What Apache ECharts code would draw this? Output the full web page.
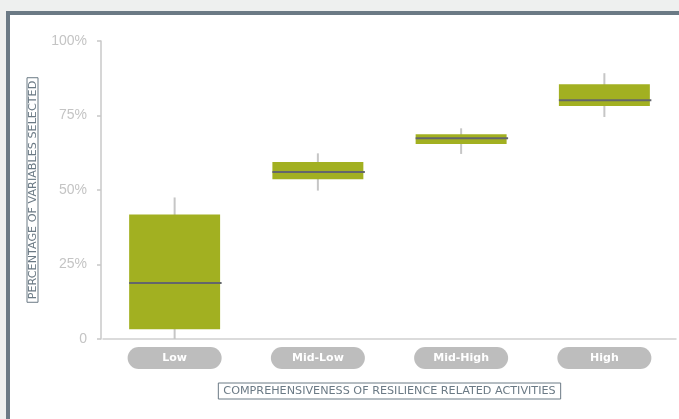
<!DOCTYPE html>
<html>
<head>
<meta charset="utf-8">
<style>
  html, body { margin: 0; padding: 0; background: #eef0ef; }
  #chart { width: 679px; height: 419px; }
</style>
<script src="https://cdn.jsdelivr.net/npm/echarts@6/dist/echarts.min.js"></script>
</head>
<body>
<div id="chart"></div>
<script>
// Activity levels along the horizontal axis
const categories = ['Low', 'Mid-Low', 'Mid-High', 'High'];
// Five-number summaries (percent): min, lower quartile, median, upper quartile, max
const lowStats     = [0, 3.3, 18.8, 41.8, 47.5];
const midLowStats  = [49.8, 53.6, 56.0, 59.4, 62.3];
const midHighStats = [62.1, 65.4, 67.4, 68.7, 70.7];
const highStats    = [74.5, 78.2, 80.1, 85.5, 89.2];
// Value axis ticks
const yTicks = [0, 25, 50, 75, 100];

const stats = [lowStats, midLowStats, midHighStats, highStats];
const seriesData = stats.map((s, i) => [i].concat(s));

const FRAME = '#6b7a85';
const BOX = '#a2b021';
const WHISKER = '#c6c6c6';
const MEDIAN = '#63666b';
const WIDE_FONT = '"DejaVu Sans", Verdana, sans-serif';

function renderBox(params, api) {
  const idx = api.value(0);
  const pMin = api.coord([idx, api.value(1)]);
  const pQ1 = api.coord([idx, api.value(2)]);
  const pMed = api.coord([idx, api.value(3)]);
  const pQ3 = api.coord([idx, api.value(4)]);
  const pMax = api.coord([idx, api.value(5)]);
  const w = api.size([1, 0])[0] * 0.635;
  const x0 = pMed[0] - w / 2;
  return {
    type: 'group',
    children: [
      {
        type: 'line',
        shape: { x1: pMin[0], y1: pMin[1], x2: pMax[0], y2: pMax[1] },
        style: { stroke: WHISKER, lineWidth: 2 }
      },
      {
        type: 'rect',
        shape: { x: x0, y: pQ3[1], width: w, height: pQ1[1] - pQ3[1] },
        style: { fill: BOX }
      },
      {
        type: 'line',
        shape: { x1: x0, y1: pMed[1], x2: x0 + w + 1.5, y2: pMed[1] },
        style: { stroke: MEDIAN, lineWidth: 2 }
      }
    ]
  };
}

const chart = echarts.init(document.getElementById('chart'), null, { renderer: 'canvas' });
chart.setOption({
  backgroundColor: '#eef0ef',
  animation: false,
  graphic: [{
    type: 'rect',
    z: -10,
    silent: true,
    shape: { x: 8, y: 13, width: 720, height: 460 },
    style: { fill: '#ffffff', stroke: FRAME, lineWidth: 4 }
  }],
  grid: { left: 103, right: 3, top: 41, bottom: 80 },
  xAxis: {
    type: 'category',
    data: categories,
    name: 'COMPREHENSIVENESS OF RESILIENCE RELATED ACTIVITIES',
    nameLocation: 'middle',
    nameGap: 44,
    nameTextStyle: {
      color: FRAME,
      fontFamily: WIDE_FONT,
      fontSize: 11.2,
      lineHeight: 11,
      borderColor: FRAME,
      borderWidth: 1,
      padding: [3, 5, 2, 5],
      verticalAlign: 'top'
    },
    axisLine: { lineStyle: { color: '#d0d0d0', width: 1.5 } },
    axisTick: { show: false },
    axisLabel: {
      margin: 8,
      color: '#ffffff',
      fontWeight: 'bold',
      fontSize: 11,
      fontFamily: WIDE_FONT,
      backgroundColor: '#bdbdbd',
      borderRadius: 11,
      width: 94,
      height: 22,
      lineHeight: 22,
      align: 'center'
    }
  },
  yAxis: {
    type: 'value',
    min: 0,
    max: 100,
    interval: 25,
    offset: 2,
    name: 'PERCENTAGE OF VARIABLES SELECTED',
    nameLocation: 'middle',
    nameGap: 63,
    nameRotate: 90,
    nameTextStyle: {
      color: FRAME,
      fontFamily: WIDE_FONT,
      fontSize: 11.2,
      lineHeight: 10,
      borderColor: FRAME,
      borderWidth: 1,
      padding: [1, 3, 0, 3]
    },
    axisLine: { show: true, lineStyle: { color: '#c8c8c8', width: 1.5 } },
    axisTick: { show: true, inside: false, length: 4, lineStyle: { color: '#c8c8c8', width: 1.5 } },
    splitLine: { show: false },
    axisLabel: {
      margin: 14,
      color: '#c4c4c4',
      fontSize: 14,
      fontFamily: 'Liberation Sans, Arial, sans-serif',
      formatter: v => (yTicks.includes(v) ? (v === 0 ? '0' : v + '%') : '')
    }
  },
  series: [{
    type: 'custom',
    renderItem: renderBox,
    encode: { x: 0, y: [1, 2, 3, 4, 5] },
    data: seriesData
  }]
});
</script>
</body>
</html>
